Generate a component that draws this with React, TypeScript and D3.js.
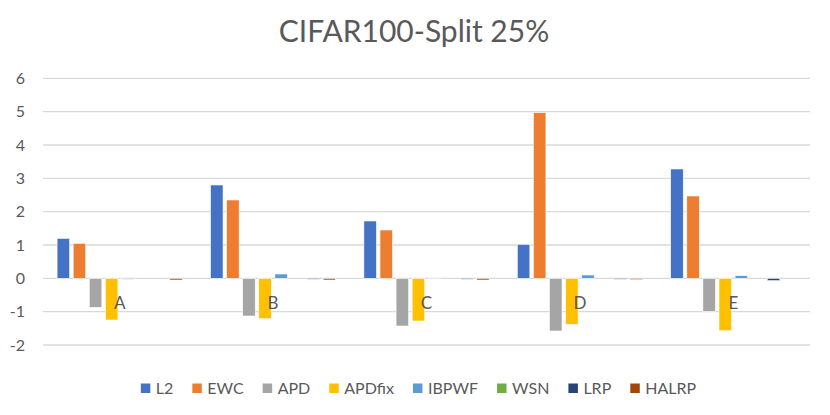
import React, { useEffect, useRef } from 'react';
import * as d3 from 'd3';

// categories on the x axis
const categories = ['A', 'B', 'C', 'D', 'E'];

// one array per method
const L2 = [1.2, 2.8, 1.72, 1.02, 3.28];
const EWC = [1.05, 2.35, 1.45, 4.97, 2.47];
const APD = [-0.87, -1.13, -1.43, -1.58, -0.99];
const APDfix = [-1.25, -1.21, -1.28, -1.38, -1.57];
const IBPWF = [-0.03, 0.13, 0.01, 0.1, 0.08];
const WSN = [0, 0, 0, 0, 0];
const LRP = [0, -0.03, -0.03, -0.03, -0.07];
const HALRP = [-0.05, -0.05, -0.05, -0.04, 0];

const seriesNames = ['L2', 'EWC', 'APD', 'APDfix', 'IBPWF', 'WSN', 'LRP', 'HALRP'];
const seriesValues = [L2, EWC, APD, APDfix, IBPWF, WSN, LRP, HALRP];
const seriesColors = ['#4472C4', '#ED7D31', '#A5A5A5', '#FFC000', '#5B9BD5', '#70AD47', '#264478', '#9E480E'];

const yTicks = [-2, -1, 0, 1, 2, 3, 4, 5, 6];

const W = 830;
const H = 415;
const FONT = 'Lato, "Open Sans", sans-serif';

export default function App() {
    const ref = useRef<SVGSVGElement>(null);

    useEffect(() => {
        document.body.style.margin = '0';
        const svg = d3.select(ref.current);
        svg.selectAll('*').remove();

        const left = 43, right = 810, top = 78.3, bottom = 345;

        const x0 = d3.scaleBand<string>().domain(categories).range([left, right]);
        const x1 = d3.scaleBand<string>().domain(seriesNames)
            .range([0, x0.bandwidth()])
            .paddingInner(0.22)
            .paddingOuter(0.875);
        const y = d3.scaleLinear().domain([-2, 6]).range([bottom, top]);

        svg.append('rect').attr('width', W).attr('height', H).attr('fill', '#fff');

        // title
        svg.append('text')
            .attr('x', 414)
            .attr('y', 42)
            .attr('text-anchor', 'middle')
            .attr('font-family', FONT)
            .attr('font-size', 30)
            .attr('fill', '#595959')
            .text('CIFAR100-Split 25%');

        // gridlines
        svg.append('g').selectAll('line')
            .data(yTicks)
            .join('line')
            .attr('x1', left)
            .attr('x2', right)
            .attr('y1', d => y(d))
            .attr('y2', d => y(d))
            .attr('stroke', '#d9d9d9')
            .attr('stroke-width', 1.3);

        // y tick labels
        svg.append('g').selectAll('text')
            .data(yTicks)
            .join('text')
            .attr('x', 25)
            .attr('y', d => y(d))
            .attr('dy', '0.36em')
            .attr('text-anchor', 'end')
            .attr('font-family', FONT)
            .attr('font-size', 16)
            .attr('fill', '#595959')
            .text(d => d);

        // bars
        const groups = svg.append('g').selectAll('g')
            .data(categories)
            .join('g')
            .attr('transform', d => `translate(${x0(d)},0)`);

        groups.selectAll('rect')
            .data((c, ci) => seriesNames.map((s, si) => ({ s, v: seriesValues[si][ci], color: seriesColors[si] })))
            .join('rect')
            .attr('x', d => x1(d.s)!)
            .attr('width', x1.bandwidth())
            .attr('y', d => y(Math.max(0, d.v)))
            .attr('height', d => Math.abs(y(d.v) - y(0)))
            .attr('fill', d => d.color)
            .attr('stroke', '#fff')
            .attr('stroke-width', 0.6);

        // category labels, sitting just below the axis line
        svg.append('g').selectAll('text')
            .data(categories)
            .join('text')
            .attr('x', d => x0(d)! + x0.bandwidth() / 2)
            .attr('y', y(0) + 31)
            .attr('text-anchor', 'middle')
            .attr('font-family', FONT)
            .attr('font-size', 17)
            .attr('fill', '#595959')
            .text(d => d);

        // legend, measured and centred
        const legend = svg.append('g');
        let lx = 0;
        seriesNames.forEach((name, i) => {
            const item = legend.append('g').attr('transform', `translate(${lx},0)`);
            item.append('rect')
                .attr('x', 0)
                .attr('y', -4.5)
                .attr('width', 9.5)
                .attr('height', 9.5)
                .attr('fill', seriesColors[i]);
            const t = item.append('text')
                .attr('x', 15)
                .attr('dy', '0.36em')
                .attr('font-family', FONT)
                .attr('font-size', 16)
                .attr('fill', '#595959')
                .text(name);
            const tw = (t.node() as SVGTextElement).getComputedTextLength();
            lx += 15 + tw + 19;
        });
        const totalW = lx - 19;
        legend.attr('transform', `translate(${418.5 - totalW / 2},388)`);
    }, []);

    return <svg ref={ref} width={W} height={H} style={{ display: 'block' }} />;
}
